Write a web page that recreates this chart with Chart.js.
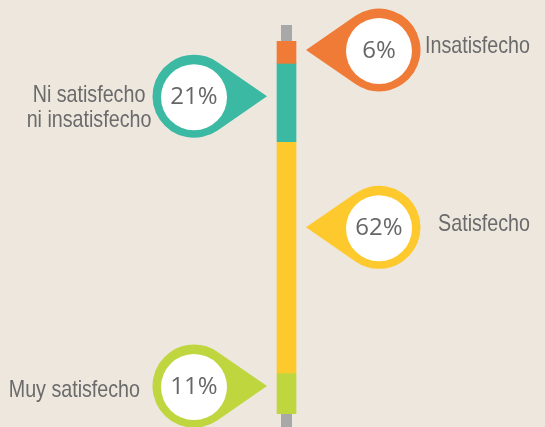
<!DOCTYPE html>
<html>
<head>
<meta charset="utf-8">
<script src="https://cdn.jsdelivr.net/npm/chart.js@4"></script>
<style>
  html, body { margin: 0; padding: 0; background: #ede7de; }
  #wrap { width: 545px; height: 427px; position: relative; }
</style>
</head>
<body>
<div id="wrap"><canvas id="chart"></canvas></div>
<script>
(function () {
  'use strict';

  // Datos de la encuesta (de arriba hacia abajo)
  const categories = [
    ['Insatisfecho'],
    ['Ni satisfecho', 'ni insatisfecho'],
    ['Satisfecho'],
    ['Muy satisfecho']
  ];
  const shares = [6, 21, 62, 11];

  // Colores y disposición de los marcadores
  const colors    = ['#f07b37', '#3bb9a3', '#fdc92d', '#bfd63f'];
  const pinSide   = ['right', 'left', 'right', 'left'];
  const pinAt     = [0.4, 0.42, 0.37, 0.32];         // posición dentro del segmento
  const labelX    = [530, 89, 530, 140];
  const labelAlign = ['right', 'center', 'right', 'right'];
  const labelDy   = [3, 6, 4, 11];                    // baseline respecto a la punta

  const BG = '#ede7de';
  const TRACK = '#a8a8a8';
  const TEXT = '#666666';
  const LABEL_FONT = '24px "Liberation Sans", Arial, sans-serif';
  const LABEL_SQUEEZE = 0.82;                         // letra condensada
  const PCT_FONT = '24px "Open Sans", "Noto Sans", sans-serif';

  // Barra gris de fondo
  const trackPlugin = {
    id: 'track',
    beforeDatasetsDraw(chart) {
      const meta = chart.getDatasetMeta(0);
      const bar = meta.data[0];
      if (!bar) return;
      const y = chart.scales.y;
      const { ctx } = chart;
      ctx.save();
      ctx.fillStyle = TRACK;
      ctx.fillRect(bar.x - 5.5, y.getPixelForValue(0) - 16, 11, chart.height);
      ctx.restore();
    }
  };

  // Marcadores tipo "pin" con porcentaje y etiqueta
  const pinPlugin = {
    id: 'pins',
    afterDatasetsDraw(chart) {
      const { ctx } = chart;
      const R = 41.5, r = 33, reach = 73, gap = 10;
      chart.data.datasets.forEach((ds, i) => {
        const bar = chart.getDatasetMeta(i).data[0];
        if (!bar) return;
        const top = Math.min(bar.y, bar.base);
        const h = Math.abs(bar.base - bar.y);
        const tipY = top + h * pinAt[i];
        const half = bar.width / 2;
        const right = pinSide[i] === 'right';
        const tipX = right ? bar.x + half + gap : bar.x - half - gap;
        const cx = right ? tipX + reach : tipX - reach;
        const cy = tipY;
        const dir = right ? Math.PI : 0;
        const a = Math.acos(R / reach);

        ctx.save();
        ctx.fillStyle = colors[i];
        ctx.beginPath();
        ctx.moveTo(tipX, tipY);
        ctx.arc(cx, cy, R, dir + a, dir - a, false);
        ctx.closePath();
        ctx.fill();

        ctx.fillStyle = '#ffffff';
        ctx.beginPath();
        ctx.arc(cx, cy + 1, r, 0, Math.PI * 2);
        ctx.fill();

        ctx.fillStyle = TEXT;
        ctx.font = PCT_FONT;
        ctx.textAlign = 'center';
        ctx.textBaseline = 'middle';
        ctx.fillText(ds.data[0] + '%', cx, cy + 1);

        ctx.font = LABEL_FONT;
        ctx.fillStyle = '#6b6b6b';
        ctx.textAlign = labelAlign[i];
        ctx.textBaseline = 'alphabetic';
        categories[i].forEach((line, k) => {
          ctx.save();
          ctx.translate(labelX[i], tipY + labelDy[i] + k * 25);
          ctx.scale(LABEL_SQUEEZE, 1);
          ctx.fillText(line, 0, 0);
          ctx.restore();
        });
        ctx.restore();
      });
    }
  };

  const canvas = document.getElementById('chart');
  canvas.style.background = BG;

  new Chart(canvas, {
    type: 'bar',
    data: {
      labels: [''],
      datasets: shares.map((v, i) => ({
        label: categories[i].join(' '),
        data: [v],
        backgroundColor: colors[i],
        borderWidth: 0,
        barThickness: 19
      }))
    },
    options: {
      responsive: true,
      maintainAspectRatio: false,
      animation: false,
      layout: { padding: { top: 41, bottom: 13, left: 28, right: 0 } },
      plugins: { legend: { display: false }, tooltip: { enabled: false } },
      scales: {
        x: { stacked: true, display: false },
        y: { stacked: true, display: false, reverse: true, min: 0, max: 100 }
      }
    },
    plugins: [trackPlugin, pinPlugin]
  });
})();
</script>
</body>
</html>
